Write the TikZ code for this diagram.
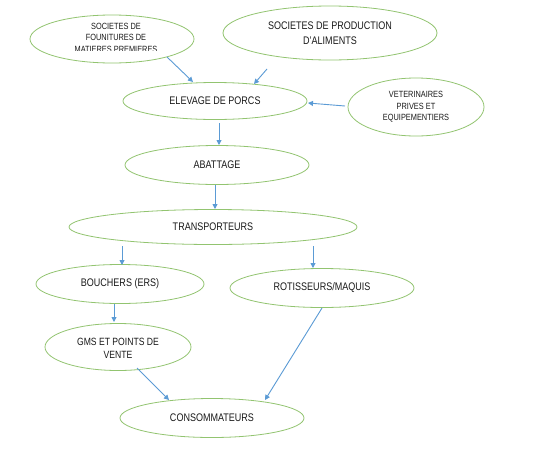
\documentclass[tikz,border=0pt]{standalone}
\usepackage{fontspec}
\setmainfont{Liberation Sans}[FakeStretch=0.82]
\usetikzlibrary{shapes.geometric,calc,arrows.meta}
\definecolor{ellgreen}{RGB}{146,196,112}
\definecolor{arrblue}{RGB}{91,155,213}
\definecolor{txt}{RGB}{25,25,25}
\begin{document}
\begin{tikzpicture}[x=1pt,y=-1pt,
  oval/.style={ellipse, draw=ellgreen, line width=0.8pt, inner sep=0pt, text=txt, align=center},
  lbl/.style={inner sep=0pt, text=txt, align=center},
  big/.style={font=\fontsize{11}{15.5}\selectfont},
  small/.style={font=\fontsize{9}{11.5}\selectfont},
  arr/.style={draw=arrblue, line width=0.9pt, -{Triangle[length=5pt,width=5pt]}}]
\useasboundingbox[fill=white] (0,0) rectangle (535,453);

% ellipses
\node[oval, minimum width=164pt, minimum height=48pt] (fourn) at (112,39) {};
\begin{scope}
  \clip (0,0) rectangle (535,50.5);
  \node[lbl, small] (fournt) at (116,37.5) {SOCIETES DE\\FOUNITURES DE\\MATIERES PREMIERES};
\end{scope}
\node[oval, big, minimum width=214pt, minimum height=54pt] (prod) at (330,33) {SOCIETES DE PRODUCTION\\D'ALIMENTS};
\node[oval, big, minimum width=184pt, minimum height=37pt] (elev) at (215,101) {ELEVAGE DE PORCS};
\node[oval, small, minimum width=136pt, minimum height=58pt] (vet) at (416,107) {VETERINAIRES\\PRIVES ET\\EQUIPEMENTIERS};
\node[oval, big, minimum width=184pt, minimum height=39pt] (abat) at (217,165) {ABATTAGE};
\node[oval, big, minimum width=288pt, minimum height=35pt] (trans) at (213,227) {TRANSPORTEURS};
\node[oval, big, minimum width=168pt, minimum height=39pt] (bouch) at (120,284) {BOUCHERS (ERS)};
\node[oval, big, minimum width=184pt, minimum height=39pt] (rot) at (322,288) {ROTISSEURS/MAQUIS};
\node[oval, minimum width=146pt, minimum height=47pt] (gms) at (118,347) {};
\begin{scope}
  \clip (0,0) rectangle (535,357.5);
  \node[lbl, font=\fontsize{10.5}{13.3}\selectfont] (gmst) at (118,348.5) {GMS ET POINTS DE\\VENTE};
\end{scope}
\node[oval, big, minimum width=184pt, minimum height=39pt] (cons) at (212,418) {CONSOMMATEURS};

% connectors
\draw[arr] ($(fourn.center)+(55,18)$) -- ($(elev.center)+(-22,-19)$);
\draw[arr] ($(prod.center)+(-63,36)$) -- ($(elev.center)+(39,-17)$);
\draw[arr] ($(vet.center)+(-71,-1)$) -- ($(elev.center)+(93,2)$);
\draw[arr] ($(elev.center)+(4,22)$) -- ($(abat.center)+(2,-20)$);
\draw[arr] ($(abat.center)+(-2,20)$) -- ($(trans.center)+(2,-18)$);
\draw[arr] ($(trans.center)+(-91,19)$) -- ($(bouch.center)+(2,-19)$);
\draw[arr] ($(trans.center)+(100,19)$) -- ($(rot.center)+(-9,-20)$);
\draw[arr] ($(bouch.center)+(-6,20)$) -- ($(gms.center)+(-4,-25)$);
\draw[arr] ($(gms.center)+(19,21)$) -- ($(cons.center)+(-43,-18)$);
\draw[arr] ($(rot.center)+(0,20)$) -- ($(cons.center)+(53,-18)$);
\end{tikzpicture}
\end{document}
